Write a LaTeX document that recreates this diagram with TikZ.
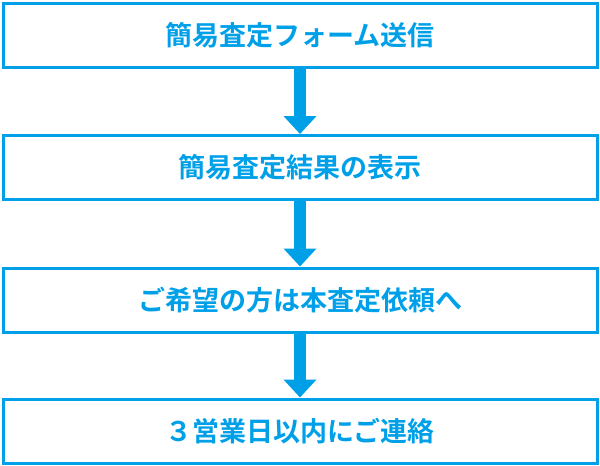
\documentclass[tikz,border=0pt]{standalone}
\usepackage{fontspec}
\newfontfamily\cjk{Noto Sans CJK JP Bold}
\usetikzlibrary{arrows.meta}
\definecolor{sky}{HTML}{00A0E9}
\begin{document}
\begin{tikzpicture}[x=1pt,y=-1pt,
  stepbox/.style={draw=sky,line width=3pt,minimum width=594pt,minimum height=64pt,inner sep=0pt,text=sky,font=\cjk\fontsize{27}{30}\selectfont},
  flow/.style={draw=sky,line width=12pt,-{Triangle[width=32pt,length=18pt]}}]
\useasboundingbox (0,0) rectangle (600,466);
\node[stepbox] (a) at (300,35) {簡易査定フォーム送信};
\node[stepbox] (b) at (300,167.5) {簡易査定結果の表示};
\node[stepbox] (c) at (300,300) {ご希望の方は本査定依頼へ};
\node[stepbox] (d) at (300,431) {３営業日以内にご連絡};
\draw[flow] (a.south) -- (b.north);
\draw[flow] (b.south) -- (c.north);
\draw[flow] (c.south) -- (d.north);
\end{tikzpicture}
\end{document}
